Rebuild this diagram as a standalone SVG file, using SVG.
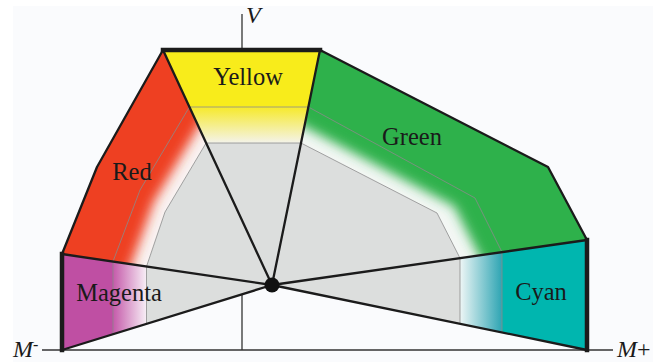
<svg xmlns="http://www.w3.org/2000/svg" width="665" height="362" viewBox="0 0 665 362">
<style>
.edge{fill:none;stroke:#1b1b1b;stroke-width:2.3;stroke-linejoin:round;stroke-linecap:round}
.bar{fill:none;stroke:#1b1b1b;stroke-width:4.5;stroke-linecap:square}
.thin{fill:none;stroke:#8a8a8a;stroke-width:0.8}
.axis{fill:none;stroke:#333;stroke-width:1.3}
.lbl{font-family:"Liberation Serif","Times New Roman",serif;font-size:24.5px;fill:#1a1a1a;text-anchor:middle}
.ax{font-family:"Liberation Serif","Times New Roman",serif;font-size:24px;font-style:italic;fill:#1a1a1a}
</style>
<defs>
<filter id="soft" x="-20%" y="-20%" width="140%" height="140%"><feGaussianBlur stdDeviation="6"/></filter>
<clipPath id="clipRed"><polygon points="163,50 97,167 62,254 146.5,266.5 165,212 206.1,143"/></clipPath>
<clipPath id="clipGreen"><polygon points="320,50 548,167 587,240 460,258.1 437,213 301,143"/></clipPath>
<linearGradient id="gYellow" gradientUnits="userSpaceOnUse" x1="0" y1="104" x2="0" y2="143">
<stop offset="0" stop-color="#f8ec1b"/><stop offset="0.15" stop-color="#f6ea3a"/><stop offset="1" stop-color="#f4f3ea"/>
</linearGradient>
<linearGradient id="gMagenta" gradientUnits="userSpaceOnUse" x1="62" y1="0" x2="146.5" y2="0">
<stop offset="0" stop-color="#bf4fa3"/><stop offset="0.6036" stop-color="#bf4fa3"/><stop offset="0.61" stop-color="#c65cab"/><stop offset="1" stop-color="#f7eff6"/>
</linearGradient>
<linearGradient id="gCyan" gradientUnits="userSpaceOnUse" x1="460" y1="0" x2="587" y2="0">
<stop offset="0" stop-color="#eef6f6"/><stop offset="0.33" stop-color="#2ea5b3"/><stop offset="0.332" stop-color="#00b6af"/><stop offset="1" stop-color="#00b6af"/>
</linearGradient>
</defs>

<rect x="13" y="6" width="640" height="356" fill="#fafbfd"/>

<g id="axes">
<line class="axis" x1="242" y1="14" x2="242" y2="350"/>
<line class="axis" x1="42" y1="350" x2="613" y2="350"/>
<text class="ax" x="246" y="23">V</text>
<text class="ax" x="13" y="357">M<tspan font-size="16" dy="-7" font-style="normal">-</tspan></text>
<text class="ax" x="617" y="357">M<tspan font-style="normal">+</tspan></text>
</g>

<g id="core">
<polygon points="206.1,143 301,143 437,213 460,258.1 460,323.8 272,285 146.5,323.8 146.5,266.5 165,212" fill="#dcdedd"/>
</g>

<g id="yellow">
<polygon points="163,50 320,50 308.4,107 189.4,107" fill="#f8ec1b"/>
<polygon points="189.4,106.5 308.4,106.5 301,143 206.1,143" fill="url(#gYellow)"/>
<line class="thin" x1="189.4" y1="107" x2="308.4" y2="107"/>
<line class="thin" x1="206.1" y1="143" x2="301" y2="143"/>
<text class="lbl" x="248" y="85">Yellow</text>
</g>

<g id="red">
<g clip-path="url(#clipRed)">
<rect x="50" y="40" width="170" height="240" fill="#f9f3f2"/>
<path d="M229.8,74.1 L198.5,126.8 L153.75,202.1 L131.4,264 L118,301.1 L0,301.1 L0,0 L229.8,0 Z" fill="#ee4123" filter="url(#soft)"/>
</g>
<polyline class="thin" points="189.4,107 140,190 113,261.5"/>
<polyline class="thin" points="206.1,143 165,212 146.5,266.5"/>
<text class="lbl" x="132" y="180">Red</text>
</g>

<g id="green">
<g clip-path="url(#clipGreen)">
<rect x="290" y="40" width="310" height="230" fill="#f3f7f4"/>
<path d="M259.4,103 L304.3,126.8 L454.1,206.25 L478.9,255.3 L493.8,284.7 L700,284.7 L700,0 L259.4,0 Z" fill="#2db14c" filter="url(#soft)"/>
</g>
<polyline class="thin" points="308.4,107 475,198 502,252.1"/>
<polyline class="thin" points="301,143 437,213 460,258.1"/>
<text class="lbl" x="412" y="145">Green</text>
</g>

<g id="magenta">
<polygon points="62,254 146.5,266.5 146.5,323.8 62,350" fill="url(#gMagenta)"/>
<line class="thin" x1="113" y1="261.5" x2="113" y2="334.2"/>
<line class="thin" x1="146.5" y1="266.5" x2="146.5" y2="323.8"/>
<text class="lbl" x="119" y="301">Magenta</text>
</g>

<g id="cyan">
<polygon points="460,258.1 587,240 587,350 460,323.8" fill="url(#gCyan)"/>
<line class="thin" x1="460" y1="258.1" x2="460" y2="323.8"/>
<line class="thin" x1="502" y1="252.1" x2="502" y2="332.5"/>
<text class="lbl" x="541" y="300">Cyan</text>
</g>

<g id="connectors">
<polyline class="edge" points="163,50 97,167 62,254"/>
<polyline class="edge" points="320,50 548,167 587,240"/>
<line class="edge" x1="272" y1="285" x2="163" y2="50"/>
<line class="edge" x1="272" y1="285" x2="320" y2="50"/>
<line class="edge" x1="272" y1="285" x2="62" y2="254"/>
<line class="edge" x1="272" y1="285" x2="62" y2="350"/>
<line class="edge" x1="272" y1="285" x2="587" y2="240"/>
<line class="edge" x1="272" y1="285" x2="587" y2="350"/>
<line class="bar" x1="163" y1="50" x2="320" y2="50"/>
<line class="bar" x1="62" y1="254" x2="62" y2="350"/>
<line class="bar" x1="587" y1="240" x2="587" y2="350"/>
<circle cx="272" cy="285" r="7.5" fill="#111"/>
</g>
</svg>
